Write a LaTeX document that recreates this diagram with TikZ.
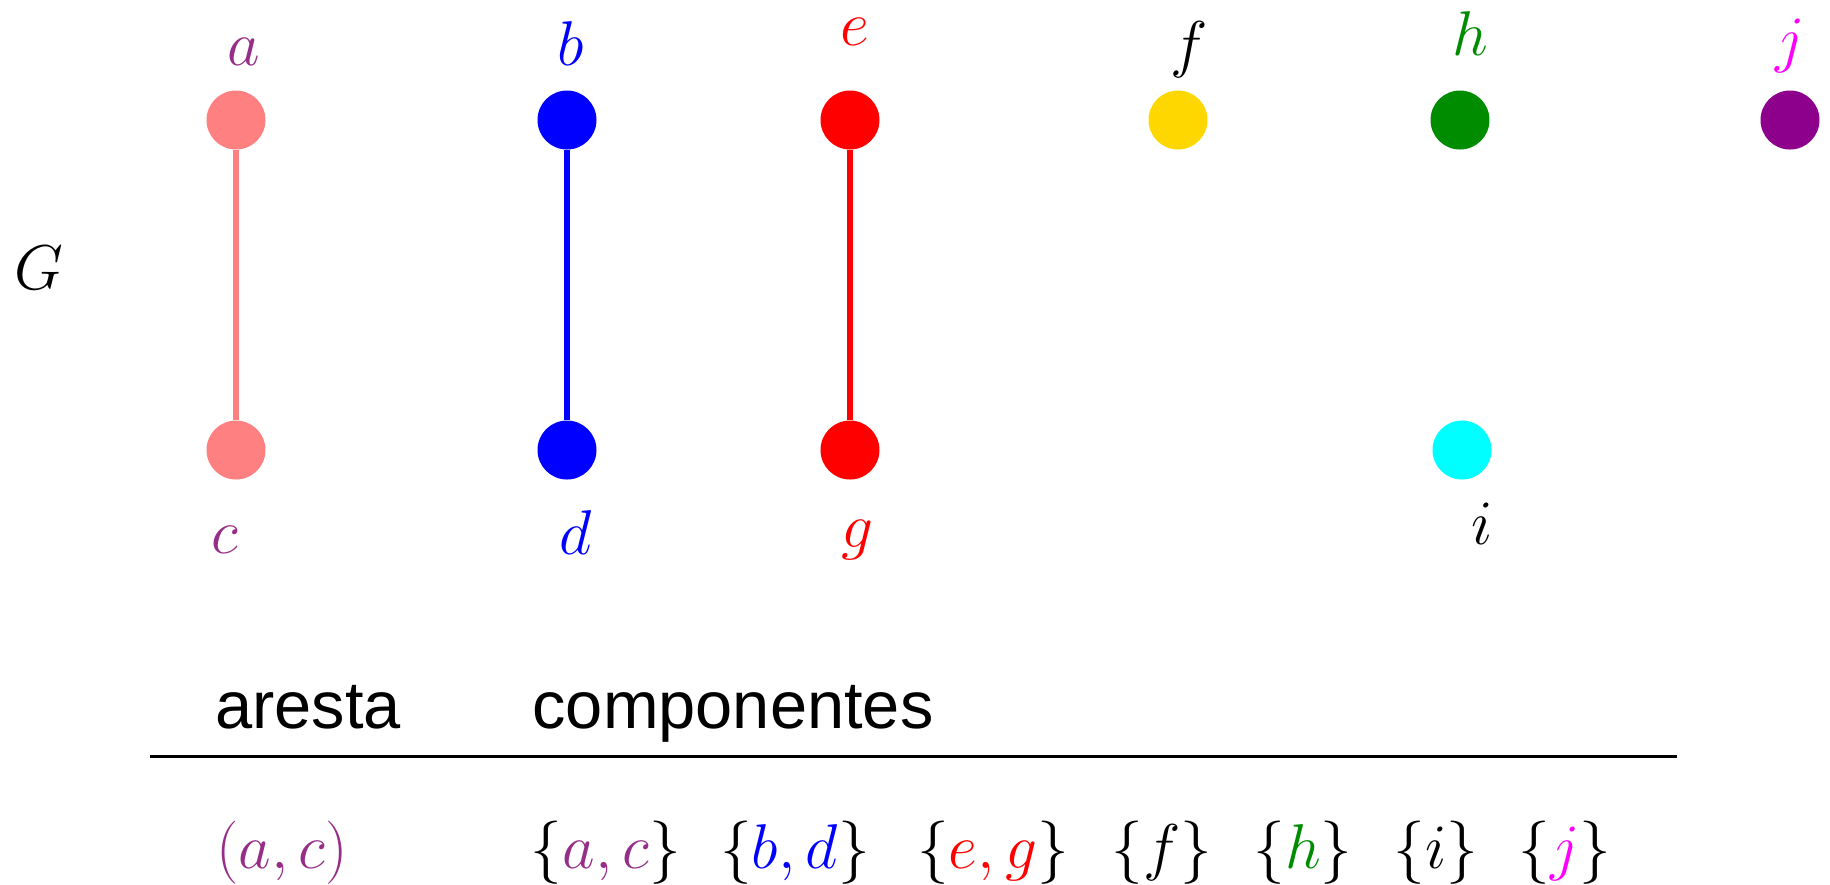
\RequirePackage{fix-cm}
\documentclass[tikz,border=0pt]{standalone}
\usepackage{fontspec}
\setsansfont{Liberation Sans}
\usepackage{xcolor}
\definecolor{plum}{RGB}{150,45,135}
\definecolor{salmon}{RGB}{255,128,128}
\definecolor{gold}{RGB}{255,215,0}
\definecolor{leaf}{RGB}{0,140,0}
\definecolor{aqua}{RGB}{0,255,255}
\definecolor{grape}{RGB}{140,0,140}
\definecolor{fuchsia}{RGB}{255,0,255}
\tikzset{
  vtx/.style={circle,fill=#1,inner sep=0pt,minimum size=5.9mm},
  vlbl/.style={anchor=base,text=#1,inner sep=0pt,font=\fontsize{18}{22}\selectfont},
  edge/.style={draw=#1,line width=1.9pt},
  head/.style={anchor=base,font=\sffamily\fontsize{19}{23}\selectfont}
}
\newcommand{\comp}[3]{%
  \node[vlbl=black] (#1) at (#2,868) {$\{#3\}$};}

\begin{document}
\begin{tikzpicture}[x=0.1mm,y=-0.1mm]
  \useasboundingbox (0,0) rectangle (1830,884);
  % vertices
  \foreach \n/\x/\y/\c in {a/236/120/salmon, b/567/120/blue, e/850/120/red,
      f/1178/120/gold, h/1460/120/leaf, j/1790/120/grape,
      c/236/450/salmon, d/567/450/blue, g/850/450/red, i/1462/450/aqua}
    {\node[vtx=\c] (\n) at (\x,\y) {};}
  % vertex labels
  \foreach \n/\x/\y/\c in {a/244/65/plum, b/571/65/blue, e/855/45/red,
      f/1189/65/black, h/1470/55/leaf, j/1790/60/fuchsia,
      c/225/553/plum, d/576/554/blue, g/857/547/red, i/1482/544/black}
    {\node[vlbl=\c] (l\n) at (\x,\y) {$\n$};}
  \node[vlbl=black] (G) at (39,289) {$G$};
  % edges
  \draw[edge=salmon] (a) -- (c);
  \draw[edge=blue] (b) -- (d);
  \draw[edge=red] (e) -- (g);
  % table
  \node[head] (aresta) at (308,728) {aresta};
  \node[head] (componentes) at (733,728) {componentes};
  \coordinate (ruleL) at (150,756);
  \coordinate (ruleR) at (1677,756);
  \draw[line width=0.85pt] (ruleL) -- (ruleR);
  \node[vlbl=plum] (ac) at (282,868) {$(a,c)$};
  \comp{cac}{606}{{\color{plum}a,c}}
  \comp{cbd}{795}{{\color{blue}b,d}}
  \comp{ceg}{993}{{\color{red}e,g}}
  \comp{cf}{1162}{f}
  \comp{ch}{1303}{{\color{leaf}h}}
  \comp{ci}{1436}{i}
  \comp{cj}{1565}{{\color{fuchsia}j}}
\end{tikzpicture}
\end{document}
